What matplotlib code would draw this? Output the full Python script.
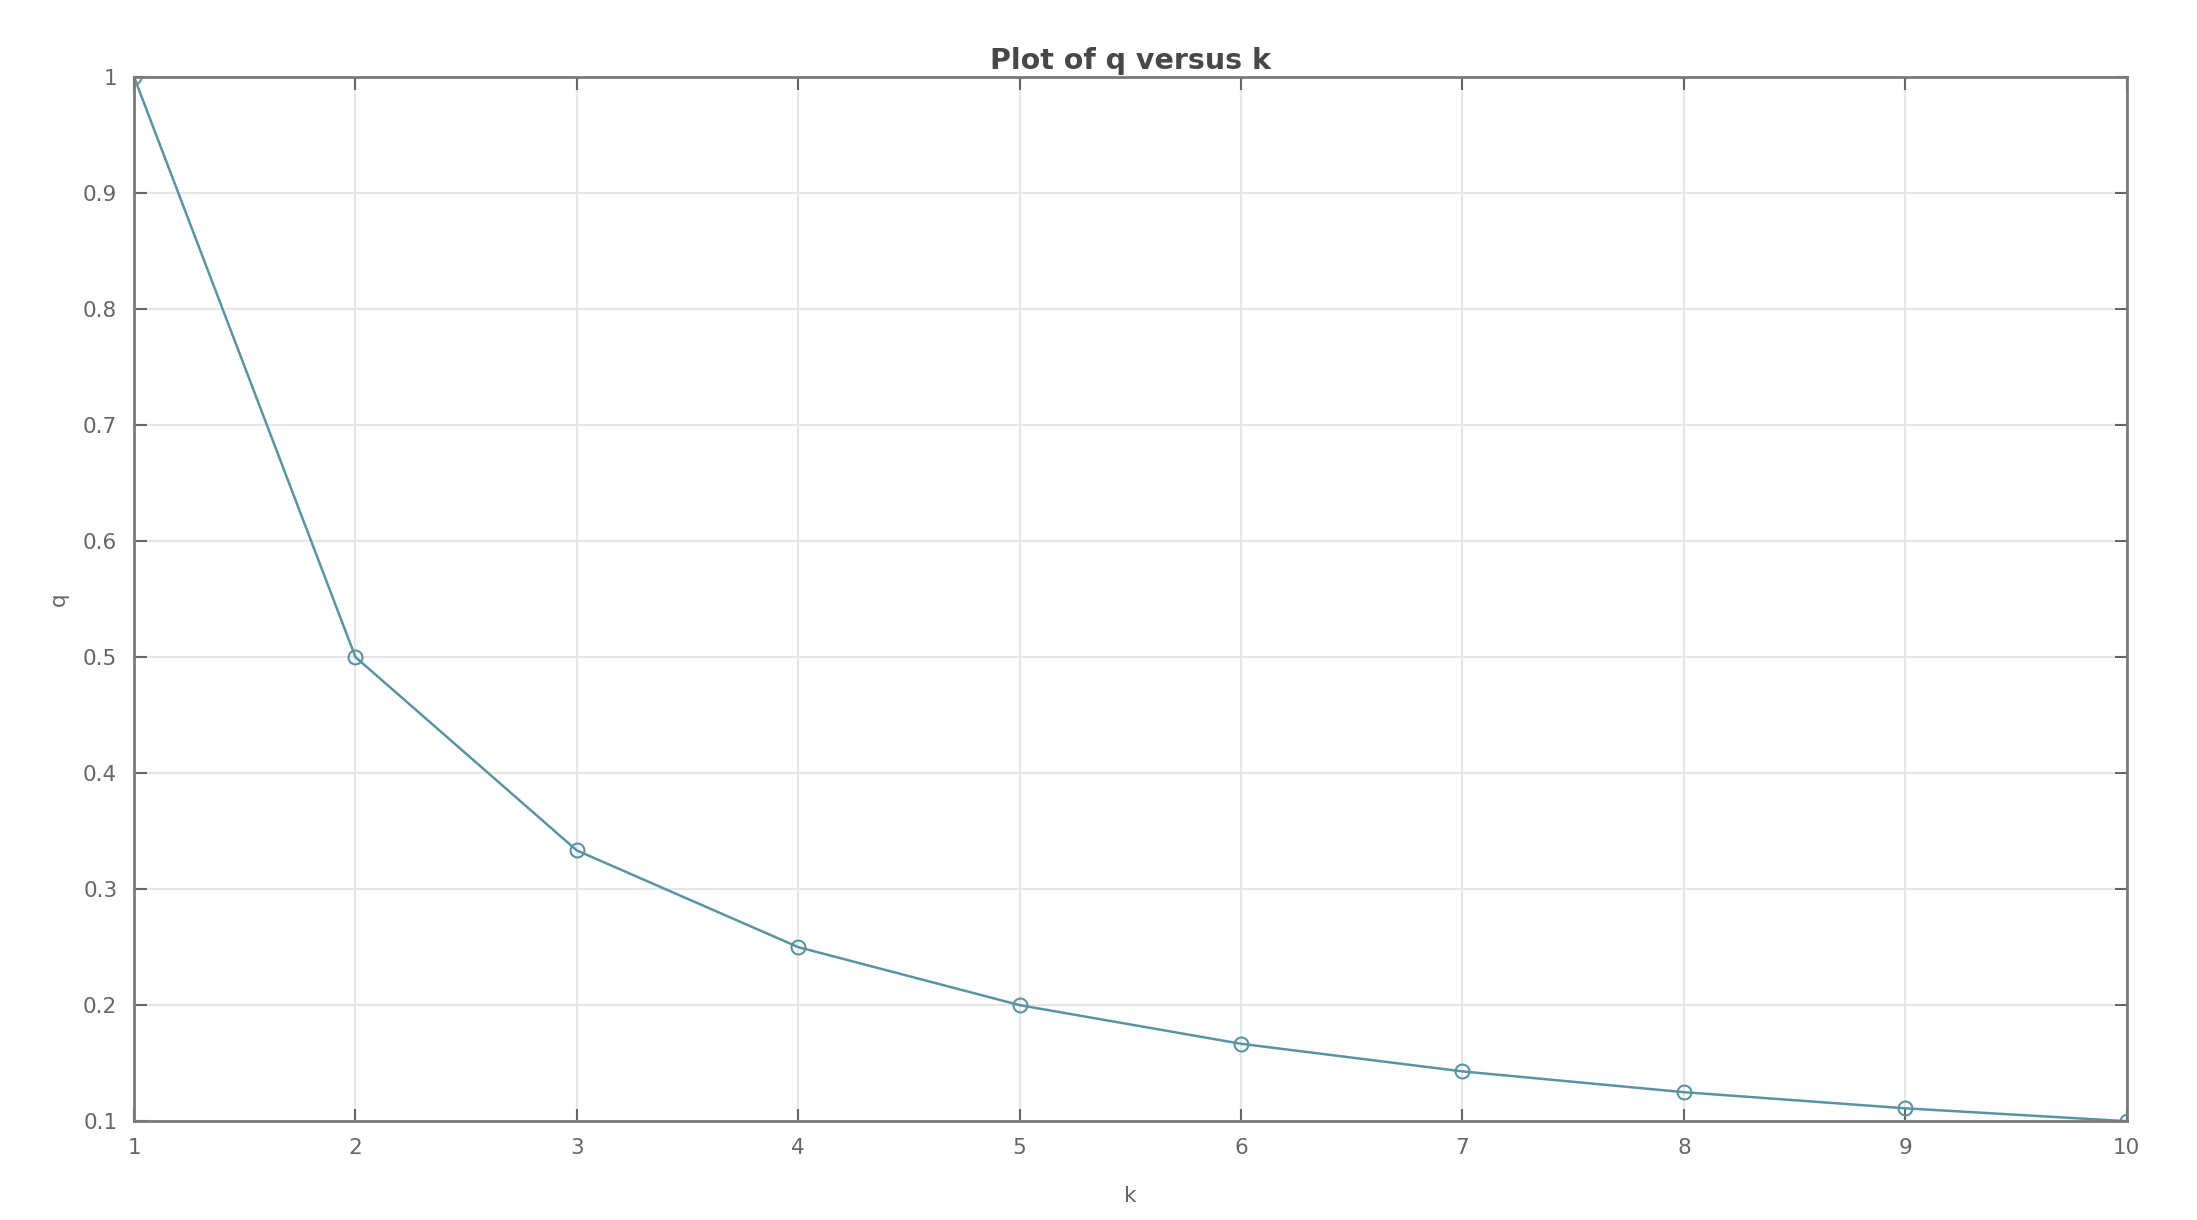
import matplotlib
matplotlib.use('Agg')
from matplotlib import pyplot as plt

k = [1, 2, 3, 4, 5, 6, 7, 8, 9, 10]
q = [1.0, 0.5, 0.3333, 0.25, 0.2, 0.1667, 0.1429, 0.125, 0.1111, 0.1]
yticks = [0.1, 0.2, 0.3, 0.4, 0.5, 0.6, 0.7, 0.8, 0.9, 1]
ytick_labels = ['0.1', '0.2', '0.3', '0.4', '0.5', '0.6', '0.7', '0.8', '0.9', '1']

fig = plt.figure(figsize=(21.97, 12.2), dpi=100)
ax = fig.add_axes([0.061, 0.081, 0.907, 0.856])

ax.plot(k, q, '-o', color='#5a94a2', lw=1.8, markersize=10,
        markerfacecolor='none', markeredgewidth=1.5)

ax.set_xlim(1, 10)
ax.set_ylim(0.1, 1)
ax.set_xticks(k)
ax.set_yticks(yticks)
ax.set_yticklabels(ytick_labels)
ax.grid(True, color='#e6e6e6', lw=1.5)
ax.set_axisbelow(True)

ax.tick_params(direction='in', length=9, width=1.5, colors='#666666',
               labelsize=15.5, top=True, right=True, pad=12)
for s in ax.spines.values():
    s.set_color('#7a7a7a')
    s.set_linewidth(2)

ax.set_title('Plot of q versus k', fontsize=20.5, fontweight='bold', color='#484848', pad=6)
ax.set_xlabel('k', fontsize=15.5, color='#666666', labelpad=20)
ax.set_ylabel('q', fontsize=15.5, color='#666666', labelpad=10)

fig.savefig('out.png', dpi=100, facecolor='white')
